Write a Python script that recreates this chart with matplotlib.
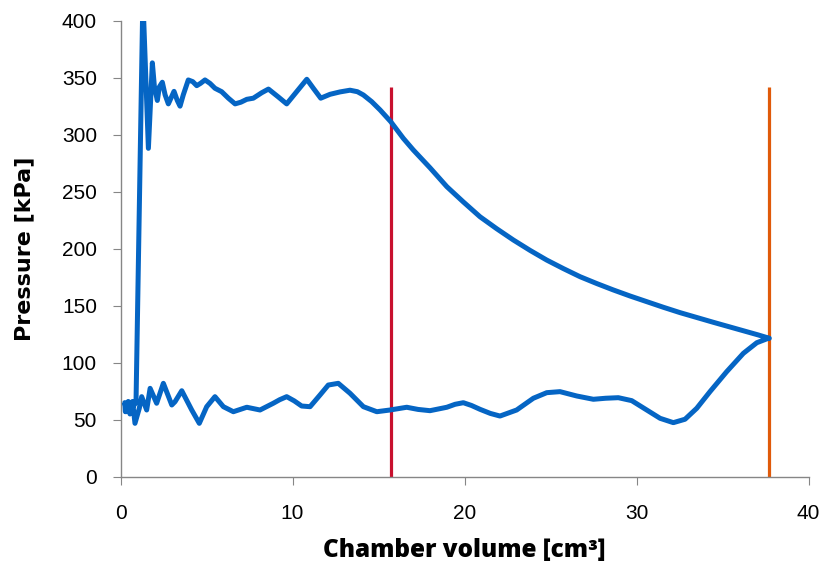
import matplotlib
matplotlib.use('Agg')
import matplotlib.pyplot as plt

# Lower branch read right to left, then the spike, the upper branch left to right and the expansion
volume = [37.66, 36.99, 36.21, 35.24, 34.27, 33.5, 32.82, 32.14, 31.37, 30.59, 29.72,
          28.94, 28.2, 27.49, 26.52, 25.55, 24.78, 24.0, 23.03, 22.06, 21.5, 20.9, 20.4,
          19.93, 19.45, 18.97, 17.99, 17.3, 16.64, 15.67, 14.9, 14.12, 13.34, 12.66, 12.08,
          11.6, 11.02, 10.53, 10.1, 9.66, 9.25, 8.88, 8.11, 7.34, 6.56, 5.98, 5.49, 5.01,
          4.58, 4.14, 3.56, 3.17, 2.98, 2.49, 2.1, 1.72, 1.52, 1.23, 1.09, 0.84, 0.7, 0.55,
          0.45, 0.35, 0.25, 0.28, 0.4, 0.55, 0.75, 0.9,
          1.3, 1.52, 1.62, 1.75, 1.85, 1.97, 2.14, 2.26, 2.43, 2.59, 2.78, 3.11, 3.3, 3.46,
          3.65, 3.94, 4.2, 4.43, 4.65, 4.91, 5.2, 5.49, 5.88, 6.27, 6.66, 7.0, 7.34, 7.72,
          8.21, 8.6, 9.18, 9.66, 10.24, 10.83, 11.21, 11.64, 12.18, 12.76, 13.34, 13.77,
          14.12, 14.6, 15.09, 15.71, 16.44, 17.02, 17.99, 18.97, 19.93, 20.9, 21.87, 22.84,
          23.81, 24.78, 25.75, 26.72, 27.69, 28.65, 29.62, 30.59, 31.56, 32.53, 33.5, 34.47,
          35.44, 36.4, 37.06, 37.72]
pressure = [121.4, 117.5, 108.2, 92.1, 74.6, 60.0, 50.4, 47.4, 51.2, 58.5, 66.7,
            69.3, 68.8, 67.9, 70.8, 74.6, 73.7, 68.8, 58.5, 53.2, 55.5, 59.1, 62.5,
            64.9, 63.5, 60.9, 57.9, 59.0, 60.9, 58.5, 57.0, 61.4, 73.2, 81.9, 80.4,
            71.7, 61.4, 62.0, 66.5, 70.2, 67.5, 64.4, 58.5, 60.9, 57.0, 61.4, 70.2, 61.4,
            46.8, 58.5, 75.4, 65.8, 62.9, 81.9, 64.4, 77.5, 58.5, 70.2, 60.0, 46.8, 66.0, 55.0,
            66.0, 57.0, 65.0, 57.0, 64.0, 58.0, 62.0, 65.0,
            420.0, 330.0, 288.0, 330.0, 363.0, 342.0, 330.0, 342.0, 346.0, 335.0, 327.0,
            338.0, 330.0, 325.0, 335.0, 348.0, 346.5, 343.0, 345.0, 348.0, 345.0, 340.7,
            337.7, 332.0, 327.0, 328.5, 331.0, 332.0, 336.8, 340.0, 333.0, 327.0, 337.7,
            348.6, 340.7, 332.0, 335.4, 337.5, 339.0, 337.7, 334.8, 329.0, 321.7, 311.4,
            296.8, 286.6, 271.0, 254.4, 241.0, 228.0, 217.5, 207.6, 198.5, 190.0, 182.5,
            175.4, 169.4, 163.8, 158.5, 153.5, 148.6, 143.9, 139.6, 135.4, 131.3, 127.2,
            124.4, 121.4]

marker_x = [15.71, 37.72]
marker_top = [342, 342]
marker_colors = ['#C8102E', '#E05A0A']

fig = plt.figure(figsize=(8.37, 5.63), dpi=100)
ax = fig.add_axes([0.144, 0.1533, 0.822, 0.81])

for xv, top, col in zip(marker_x, marker_top, marker_colors):
    ax.plot([xv, xv], [0, top], color=col, linewidth=2.3, solid_capstyle='butt', zorder=2)

ax.plot(volume, pressure, color='#0565C4', linewidth=3.6, solid_joinstyle='round',
        solid_capstyle='round', zorder=3)

ax.set_xlim(0, 40)
ax.set_ylim(0, 400)
ax.set_xticks([0, 10, 20, 30, 40])
ax.set_yticks(range(0, 401, 50))

for side in ['top', 'right']:
    ax.spines[side].set_visible(False)
for side in ['left', 'bottom']:
    ax.spines[side].set_color('#868686')
    ax.spines[side].set_linewidth(1.0)

ax.tick_params(axis='x', direction='out', length=6, color='#868686', pad=14,
               labelsize=15)
ax.tick_params(axis='y', direction='out', length=6, color='#868686', pad=11,
               labelsize=15)
for lab in ax.get_xticklabels() + ax.get_yticklabels():
    lab.set_family('Liberation Sans')

ax.set_xlabel('Chamber volume [cm³]', fontsize=17.5, fontweight='heavy',
              family='Open Sans')
ax.set_ylabel('Pressure [kPa]', fontsize=16, fontweight='bold', family='DejaVu Sans')
ax.xaxis.set_label_coords(0.5, -0.135)
ax.yaxis.set_label_coords(-0.125, 0.5)

fig.savefig('out.png', dpi=100)
